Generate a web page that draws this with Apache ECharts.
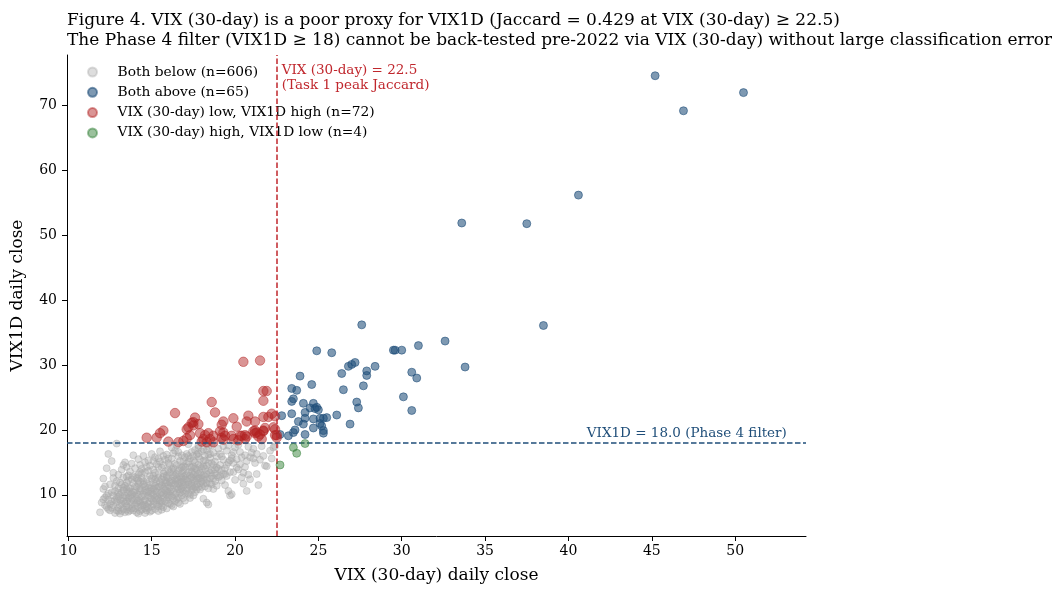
<!DOCTYPE html>
<html>
<head>
<meta charset="utf-8">
<script src="https://cdn.jsdelivr.net/npm/echarts@6/dist/echarts.min.js"></script>
<style>
  html, body { margin: 0; padding: 0; background: #fff; }
  #main { width: 1052px; height: 589px; }
</style>
</head>
<body>
<div id="main"></div>
<script>
var FONT = '"DejaVu Serif", serif';

// tick labels
var xTicks = [10, 15, 20, 25, 30, 35, 40, 45, 50];
var yTicks = [10, 20, 30, 40, 50, 60, 70];

// thresholds
var vixCut = 22.5;
var vix1dCut = 18.0;

// both below (grey)
var bothBelow = [
  [11.9,7.3],[12.0,8.8],[12.1,10.9],[12.1,12.5],[12.4,16.3],[12.7,13.4],[12.9,17.9],[12.2,9.6],[12.3,8.1],[12.4,10.2],[12.5,7.6],[12.5,11.6],
  [12.6,9.0],[12.7,8.4],[12.8,10.6],[12.8,7.2],[12.9,9.5],[12.9,12.1],[13.0,8.0],[13.0,11.0],[12.3,14.1],[12.6,15.2],[12.2,11.3],[12.7,9.9],
  [13.1,7.1],[13.1,9.2],[13.2,10.4],[13.2,8.6],[13.3,12.7],[13.3,7.8],[13.4,15.0],[13.4,9.9],[13.4,11.4],[13.5,8.3],[13.5,10.8],[13.6,7.4],
  [13.6,9.5],[13.6,12.2],[13.7,8.9],[13.7,11.0],[13.7,13.6],[13.8,7.9],[13.8,10.1],[13.9,16.1],[13.9,9.1],[13.9,11.8],[14.0,8.4],[14.0,10.6],
  [13.2,13.9],[13.5,14.3],[13.8,14.8],[13.1,11.9],[13.3,9.0],[13.6,10.3],[13.9,7.6],[13.4,8.7],[13.7,9.8],[14.0,12.7],[13.2,7.5],[13.5,11.9],
  [14.1,7.3],[14.1,9.4],[14.1,11.2],[14.2,8.1],[14.2,10.0],[14.2,13.1],[14.3,8.8],[14.3,12.0],[14.3,14.6],[14.4,7.7],[14.4,9.7],[14.4,10.9],
  [14.5,16.0],[14.5,8.4],[14.5,11.6],[14.6,9.2],[14.6,13.5],[14.6,7.9],[14.7,10.4],[14.7,12.4],[14.8,8.7],[14.8,11.1],[14.8,15.3],[14.9,9.5],
  [14.9,7.4],[14.9,12.9],[15.0,16.3],[15.0,10.2],[15.0,8.2],[14.2,15.5],[14.4,14.0],[14.7,14.3],[14.1,12.5],[14.5,10.1],[14.9,11.5],[14.3,9.0],
  [14.6,8.5],[14.8,9.9],[14.0,9.8],[14.7,7.6],
  [15.1,9.0],[15.1,11.8],[15.1,13.9],[15.2,7.8],[15.2,10.6],[15.2,12.4],[15.3,8.5],[15.3,9.8],[15.3,14.7],[15.4,11.2],[15.4,13.1],[15.4,7.5],
  [15.5,10.1],[15.5,12.0],[15.5,16.7],[15.6,8.9],[15.6,11.5],[15.6,14.2],[15.7,9.5],[15.7,12.8],[15.7,8.1],[15.8,10.7],[15.8,13.6],[15.8,15.4],
  [15.9,9.2],[15.9,11.9],[15.9,7.9],[16.0,10.3],[16.0,12.6],[16.0,14.9],[15.2,15.8],[15.5,15.1],[15.9,16.2],[15.3,11.0],[15.6,10.4],[15.8,11.3],
  [15.4,9.4],[15.7,13.3],[15.1,12.9],[15.9,13.0],
  [16.1,8.6],[16.1,11.1],[16.1,13.4],[16.2,9.7],[16.2,12.2],[16.2,15.6],[16.3,10.5],[16.3,14.1],[16.3,8.2],[16.4,11.7],[16.4,13.0],[16.4,16.8],
  [16.5,9.3],[16.5,12.5],[16.5,14.6],[16.6,10.9],[16.6,13.7],[16.6,8.8],[16.7,11.4],[16.7,15.2],[16.7,12.0],[16.8,9.9],[16.8,13.3],[16.8,16.1],
  [16.9,10.6],[16.9,12.8],[16.9,14.4],[17.0,11.6],[17.0,9.1],[17.0,15.8],[16.2,17.3],[16.5,17.6],[16.6,15.9],[16.3,12.8],[16.8,11.0],[16.4,10.0],
  [16.9,13.8],[16.1,14.5],[16.7,14.0],[16.0,9.6],
  [17.1,12.3],[17.1,14.8],[17.2,10.2],[17.2,13.5],[17.2,17.8],[17.3,11.3],[17.3,15.6],[17.3,9.5],[17.4,12.7],[17.4,14.2],[17.4,16.6],[17.5,11.0],
  [17.5,13.1],[17.6,15.0],[17.6,12.1],[17.6,10.4],[17.7,13.9],[17.7,16.2],[17.7,11.6],[17.8,14.6],[17.8,12.5],[17.8,17.2],[17.9,10.8],[17.9,13.4],
  [17.9,15.5],[18.0,12.0],[18.0,14.1],[18.0,16.7],[17.3,13.0],[17.5,14.4],[17.6,16.9],[17.9,11.8],[17.1,16.3],[17.4,10.7],[17.8,15.9],
  [18.1,9.4],[18.1,13.0],[18.1,15.2],[18.2,11.3],[18.2,16.0],[18.3,8.8],[18.3,12.4],[18.3,14.5],[18.4,8.5],[18.4,13.7],[18.4,17.4],[18.5,11.8],
  [18.5,15.7],[18.6,12.9],[18.6,14.9],[18.7,10.9],[18.7,16.5],[18.8,13.3],[18.8,12.1],[18.9,14.2],[18.9,15.9],[19.0,12.7],[19.0,17.1],[18.2,14.0],
  [18.5,13.4],[18.7,14.6],[18.9,11.4],[18.6,17.6],[18.3,16.9],
  [19.1,14.6],[19.1,16.3],[19.2,12.2],[19.2,13.8],[19.3,15.4],[19.3,17.5],[19.4,11.5],[19.4,14.1],[19.5,16.8],[19.5,12.9],[19.6,10.6],[19.6,15.0],
  [19.7,9.9],[19.7,13.5],[19.8,10.1],[19.8,16.1],[19.9,13.5],[19.9,14.9],[20.0,12.3],[20.0,17.3],[19.3,13.2],[19.6,17.6],[19.8,15.6],[19.2,15.9],
  [20.1,15.5],[20.2,13.9],[20.3,14.7],[20.3,16.6],[20.4,12.7],[20.5,13.4],[20.5,11.7],[20.6,16.1],[20.7,10.6],[20.7,15.2],[20.8,17.4],[20.9,12.4],
  [21.0,16.5],[20.2,17.7],[20.6,14.3],[20.9,15.8],
  [21.1,17.1],[21.3,16.3],[21.4,11.5],[21.3,13.2],[21.5,15.4],[21.6,17.5],[21.8,14.5],[21.9,14.4],[22.1,16.8],[22.3,17.3],[22.4,17.5],[22.2,15.6],
  [21.7,16.0],[21.2,14.9],
  [12.6,8.0],[12.9,8.9],[13.1,10.0],[13.3,11.1],[13.5,9.6],[13.7,7.6],[13.9,10.4],[14.1,8.7],[14.3,10.6],[14.5,9.0],[14.6,11.3],[14.8,8.0],
  [15.0,9.4],[15.1,10.9],[15.3,12.0],[15.4,8.2],[15.6,9.9],[15.7,11.0],[15.9,10.0],[16.1,10.5],[16.2,11.8],[16.4,9.0],[16.5,11.2],[16.7,10.3],
  [16.9,12.0],[17.0,13.0],[17.2,12.0],[17.4,11.8],[17.6,13.4],[17.8,11.2],[13.0,9.7],[13.6,8.1],[14.2,11.7],[14.9,10.6],[15.5,8.7],[16.0,11.5],
  [16.6,12.3],[17.1,11.0],[12.4,9.2],[13.8,12.4],[14.4,12.6],[15.2,9.6],[15.8,12.2],[16.3,13.5],[16.8,12.6],[17.3,14.3],[17.7,12.8],[18.1,12.3],
  [18.4,11.0],[18.8,13.9],
  [12.3,9.9],[12.5,8.6],[12.6,10.4],[12.8,9.2],[12.8,11.4],[13.0,7.5],[13.0,10.3],[13.1,8.4],[13.2,11.6],[13.3,9.5],[13.3,10.7],[13.4,7.3],
  [13.5,9.0],[13.5,12.8],[13.6,11.1],[13.7,10.5],[13.8,8.6],[13.8,9.4],[13.9,12.9],[14.0,7.9],[14.0,11.3],[14.1,10.1],[14.2,9.1],[14.2,12.2],
  [14.3,7.5],[14.3,11.0],[14.4,8.3],[14.4,13.3],[14.5,12.1],[14.6,10.7],[14.6,9.8],[14.7,8.2],[14.7,11.8],[14.8,10.5],[14.8,13.7],[14.9,8.9],
  [15.0,11.0],[15.0,12.5],[15.1,8.5],[15.1,10.0],[15.2,11.4],[15.2,13.4],[15.3,9.2],[15.3,10.4],[15.4,12.6],[15.4,14.3],[15.5,9.1],[15.5,11.3],
  [15.6,12.4],[15.6,8.3],[15.7,10.2],[15.7,14.6],[15.8,9.0],[15.8,11.8],[15.9,12.7],[15.9,10.6],[16.0,8.7],[16.0,13.8],[16.1,9.9],[16.1,12.0],
  [16.2,10.9],[16.2,13.9],[16.3,9.4],[16.3,11.5],[16.4,12.3],[16.4,14.8],[16.5,10.3],[16.5,13.2],[16.6,11.7],[16.6,9.6],[16.7,12.8],[16.7,10.8],
  [16.8,14.2],[16.8,11.9],[16.9,9.5],[16.9,11.3],[17.0,12.4],[17.0,14.3],[17.1,10.6],[17.1,13.2],[17.2,11.6],[17.2,15.1],[17.3,12.5],[17.3,10.0],
  [17.4,13.6],[17.4,11.4],[17.5,12.4],[17.5,15.3],[17.6,11.2],[17.6,14.1],[17.7,12.3],[17.7,10.8],[17.8,13.2],[17.8,16.4],[17.9,12.6],[17.9,14.3],
  [18.0,11.2],[18.0,13.0],[18.1,14.4],[18.1,11.7],[18.2,12.8],[18.2,15.3],[18.3,13.2],[18.3,11.8],[18.4,14.9],[18.5,12.5],[18.5,16.3],[18.6,11.6],
  [18.6,13.8],[18.7,12.5],[18.8,15.1],[18.9,13.0],[12.7,12.6],[13.0,13.1],[13.3,14.6],[13.6,13.0],[14.0,14.1],[14.3,13.5],[14.6,15.0],[14.9,14.5],
  [15.1,15.2],[15.4,15.6],[15.7,16.0],[16.0,15.6],[16.3,16.4],[16.6,16.6],[16.9,15.1],[17.2,16.0],[17.5,16.0],[17.8,17.6],[18.1,17.0],[18.4,16.2],
  [19.0,14.0],[19.1,12.9],[19.4,13.2],[19.5,14.6],[19.7,15.3],[19.9,16.6],[20.1,14.2],[20.4,15.8],[20.8,13.1],[21.1,15.6],[12.2,8.4],[12.4,7.8],
  [12.1,9.3],[12.9,7.6],[13.5,7.7],[14.2,7.1],[14.6,7.2],[15.0,7.6],[15.6,7.7],[16.2,8.4],[16.7,8.6],[17.0,10.2],[17.5,9.9]
];

// both above (blue)
var bothAbove = [
  [45.2,74.6],[46.9,69.2],[50.5,72.0],[40.6,56.2],[33.6,51.9],[37.5,51.8],[38.5,36.1],
  [27.6,36.2],[24.9,32.2],[25.8,31.9],[29.5,32.3],[29.6,32.3],[30.0,32.3],[31.0,33.0],[32.6,33.7],[33.8,29.7],
  [27.2,30.4],[27.0,30.1],[26.8,29.8],[27.9,29.1],[27.9,28.4],[28.4,29.8],[26.4,28.7],[30.6,28.9],[30.9,28.0],
  [23.9,28.3],[24.6,27.0],[23.4,26.4],[23.7,26.1],[26.5,26.2],[27.7,26.8],[23.5,24.8],[23.4,24.4],[24.1,24.1],
  [27.3,24.3],[27.4,23.4],[30.1,25.1],[30.6,23.0],[24.7,24.1],[24.5,23.4],[24.8,23.3],[25.0,23.1],[24.2,22.7],
  [22.8,22.2],[23.4,22.5],[24.7,21.7],[25.1,21.8],[25.3,21.8],[25.5,21.9],[26.1,22.3],[23.8,21.3],[24.1,20.9],
  [24.2,21.8],[26.9,20.9],[24.7,20.3],[25.2,20.6],[25.3,19.9],[25.3,19.5],[23.6,20.0],[23.5,19.6],[24.2,19.3],
  [23.2,19.1],[22.7,19.3],[24.9,23.5],[25.1,21.0]
];

// VIX low, VIX1D high (red)
var lowHigh = [
  [20.5,30.5],[21.5,30.7],[21.7,26.0],[21.9,26.0],[21.7,24.5],[18.6,24.3],[18.8,22.7],[16.4,22.6],
  [17.6,21.9],[17.5,21.2],[17.8,20.9],[17.2,20.4],[17.1,20.1],[19.3,21.3],[19.2,20.8],[19.1,19.8],
  [19.9,21.8],[20.1,20.5],[20.8,22.2],[20.7,21.3],[21.2,21.3],[21.7,22.0],[22.0,22.0],[22.2,22.5],[22.4,22.1],
  [21.8,20.3],[21.7,19.8],[21.2,19.9],[21.2,19.5],[22.4,20.1],[22.5,19.2],[15.7,19.9],[15.5,19.5],
  [14.7,18.8],[15.3,18.8],[16.0,18.2],[16.6,18.1],[17.1,18.7],[17.3,19.2],[17.9,19.5],[18.4,19.5],[18.7,19.1],
  [18.1,18.6],[18.5,18.6],[18.3,18.1],[19.3,19.6],[19.2,18.8],[19.3,18.5],[19.8,19.1],[19.9,18.6],[20.4,19.1],
  [20.6,18.6],[20.7,19.0],[21.3,19.6],[21.4,19.0],[21.7,19.9],[21.6,18.6],[22.5,18.8],[17.4,21.1],[17.5,20.7],
  [18.2,19.2],[18.7,18.1],[19.4,19.1],[20.3,19.1],[20.6,19.2],[21.1,19.8],[21.5,19.3],[22.3,20.4],[22.4,19.2],
  [16.9,18.3],[18.0,18.2],[20.2,18.4]
];

// VIX high, VIX1D low (green)
var highLow = [[23.5,17.3],[23.7,16.4],[24.2,17.9],[22.7,14.6]];

var chartDom = document.getElementById('main');
var myChart = echarts.init(chartDom);
var option;

function scatter(name, data, size, color, z) {
    return {
        name: name,
        type: 'scatter',
        data: data,
        symbolSize: size,
        z: z,
        itemStyle: {
            color: color,
            borderColor: color,
            borderWidth: 1
        },
        emphasis: { disabled: true }
    };
}

option = {
    animation: false,
    backgroundColor: '#fff',
    textStyle: { fontFamily: FONT },
    title: {
        text: 'Figure 4. VIX (30-day) is a poor proxy for VIX1D (Jaccard = 0.429 at VIX (30-day) \u2265 22.5)\n' +
              'The Phase 4 filter (VIX1D \u2265 18) cannot be back-tested pre-2022 via VIX (30-day) without large classification error',
        left: 62,
        top: 6,
        textStyle: { fontFamily: FONT, fontSize: 17, fontWeight: 'normal', color: '#000', lineHeight: 20 }
    },
    legend: {
        orient: 'vertical',
        left: 82,
        top: 59,
        itemWidth: 40,
        itemHeight: 9,
        itemGap: 4.3,
        icon: 'circle',
        textStyle: { fontFamily: FONT, fontSize: 13.8, color: '#000', lineHeight: 16 },
        data: [
            'Both below (n=606)',
            'Both above (n=65)',
            'VIX (30-day) low, VIX1D high (n=72)',
            'VIX (30-day) high, VIX1D low (n=4)'
        ]
    },
    grid: { left: 67, right: 246, top: 55, bottom: 52 },
    xAxis: {
        type: 'value',
        min: 9.92,
        max: 54.25,
        name: 'VIX (30-day) daily close',
        nameLocation: 'middle',
        nameGap: 31,
        nameTextStyle: { fontFamily: FONT, fontSize: 17, color: '#000' },
        splitLine: { show: false },
        axisLine: { show: true, onZero: false, lineStyle: { color: '#000', width: 1 } },
        axisTick: { show: true, length: 5, lineStyle: { color: '#000' }, customValues: xTicks },
        axisLabel: { fontFamily: FONT, fontSize: 14, color: '#000', margin: 8, customValues: xTicks }
    },
    yAxis: {
        type: 'value',
        min: 3.65,
        max: 77.8,
        name: 'VIX1D daily close',
        nameLocation: 'middle',
        nameGap: 41,
        nameTextStyle: { fontFamily: FONT, fontSize: 17, color: '#000' },
        splitLine: { show: false },
        axisLine: { show: true, onZero: false, lineStyle: { color: '#000', width: 1 } },
        axisTick: { show: true, length: 5, lineStyle: { color: '#000' }, customValues: yTicks },
        axisLabel: { fontFamily: FONT, fontSize: 14, color: '#000', margin: 10, customValues: yTicks }
    },
    series: [
        scatter('Both below (n=606)', bothBelow, 7, 'rgba(169,169,169,0.5)', 2),
        scatter('Both above (n=65)', bothAbove, 8, 'rgba(31,78,121,0.72)', 3),
        scatter('VIX (30-day) low, VIX1D high (n=72)', lowHigh, 9.5, 'rgba(178,34,34,0.6)', 4),
        scatter('VIX (30-day) high, VIX1D low (n=4)', highLow, 8, 'rgba(46,125,50,0.6)', 5),
        {
            type: 'scatter',
            data: [],
            z: 10,
            silent: true,
            markLine: {
                symbol: 'none',
                silent: true,
                animation: false,
                label: { show: false },
                data: [
                    { xAxis: vixCut, lineStyle: { color: '#c0272d', type: [5.5, 2.5], width: 1.5 } },
                    { yAxis: vix1dCut, lineStyle: { color: '#1f4e79', type: [5.5, 2.5], width: 1.5 } }
                ]
            }
        }
    ]
};
option && myChart.setOption(option);

// annotation texts placed relative to the threshold lines
var vLine = myChart.convertToPixel({ gridIndex: 0 }, [vixCut, 0]);
var hLine = myChart.convertToPixel({ gridIndex: 0 }, [53.1, vix1dCut]);
var topY = myChart.convertToPixel({ gridIndex: 0 }, [0, 77.8])[1];
myChart.setOption({
    graphic: [
        {
            type: 'text',
            left: vLine[0] + 5,
            top: topY + 8,
            style: {
                text: 'VIX (30-day) = 22.5\n(Task 1 peak Jaccard)',
                fill: '#c0272d',
                font: '13.5px ' + FONT,
                lineHeight: 15
            }
        },
        {
            type: 'text',
            x: hLine[0],
            y: hLine[1] - 2,
            style: {
                text: 'VIX1D = 18.0 (Phase 4 filter)',
                fill: '#1f4e79',
                font: '13.5px ' + FONT,
                align: 'right',
                verticalAlign: 'bottom'
            }
        }
    ]
});
</script>
</body>
</html>
